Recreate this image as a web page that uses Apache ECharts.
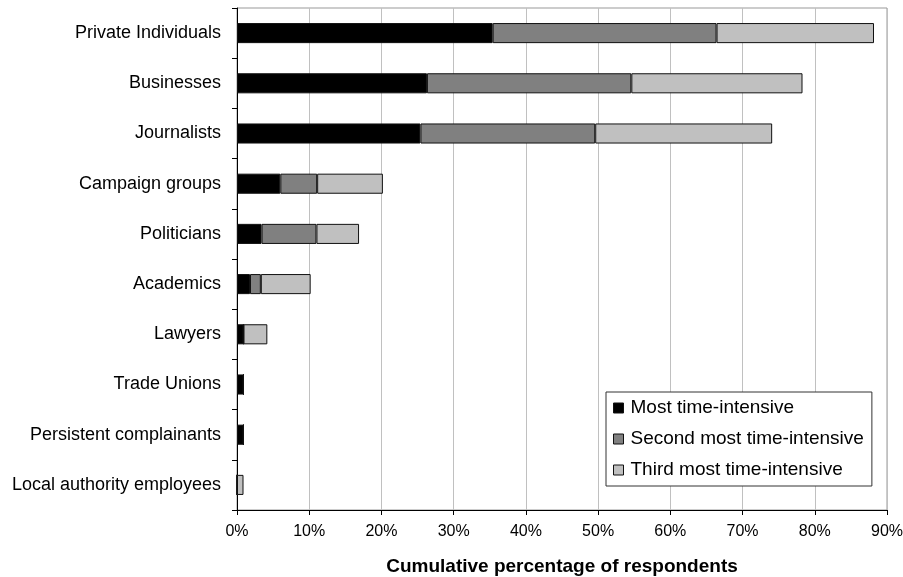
<!DOCTYPE html>
<html>
<head>
<meta charset="utf-8">
<script src="https://cdn.jsdelivr.net/npm/echarts@6/dist/echarts.min.js"></script>
<style>
  html, body { margin: 0; padding: 0; background: #fff; }
  #chart { width: 903px; height: 577px; }
</style>
</head>
<body>
<div id="chart"></div>
<script>
const categories = [
  'Private Individuals', 'Businesses', 'Journalists', 'Campaign groups', 'Politicians',
  'Academics', 'Lawyers', 'Trade Unions', 'Persistent complainants', 'Local authority employees'
];
const mostIntensive = [35.4, 26.3, 25.4, 6.0, 3.4, 1.8, 0.9, 0.9, 0.9, 0];
const secondIntensive = [31.0, 28.3, 24.2, 5.1, 7.6, 1.5, 0, 0, 0, 0];
const thirdIntensive = [21.8, 23.7, 24.5, 9.1, 5.9, 6.9, 3.3, 0, 0, 0.9];
const xTicks = [0, 10, 20, 30, 40, 50, 60, 70, 80, 90];

const font = 'Liberation Sans, Arial, sans-serif';
const chart = echarts.init(document.getElementById('chart'));

const barSeries = (name, data, color) => ({
  name,
  type: 'bar',
  stack: 'total',
  data,
  barCategoryGap: '60%',
  itemStyle: { color, borderColor: '#111', borderWidth: 1 },
  emphasis: { disabled: true }
});

chart.setOption({
  animation: false,
  textStyle: { fontFamily: font },
  grid: {
    left: 237, right: 16, top: 8, bottom: 67,
    outerBoundsMode: 'none',
    containLabel: false,
    show: true, borderColor: '#999', borderWidth: 1
  },
  legend: {
    orient: 'vertical',
    left: 606, top: 392,
    itemWidth: 10, itemHeight: 10,
    itemGap: 11,
    padding: [6, 8, 6, 7],
    borderColor: '#333', borderWidth: 1,
    backgroundColor: '#fff',
    icon: 'rect',
    itemStyle: { borderColor: '#111', borderWidth: 1 },
    textStyle: { fontSize: 19, lineHeight: 20, color: '#000', fontFamily: font, padding: [0, 0, 0, 2] },
    data: ['Most time-intensive', 'Second most time-intensive', 'Third most time-intensive']
  },
  xAxis: {
    type: 'value',
    min: xTicks[0],
    max: xTicks[xTicks.length - 1],
    interval: 10,
    name: 'Cumulative percentage of respondents',
    nameLocation: 'middle',
    nameGap: 47,
    nameTextStyle: { fontSize: 19, fontWeight: 'bold', color: '#000', fontFamily: font },
    axisLine: { show: true, lineStyle: { color: '#000', width: 1 } },
    axisTick: { show: true, length: 5, inside: false, lineStyle: { color: '#000' } },
    axisLabel: { fontSize: 16, color: '#000', margin: 14, formatter: v => v + '%' },
    splitLine: { show: true, lineStyle: { color: '#c0c0c0', width: 1 } }
  },
  yAxis: {
    type: 'category',
    data: categories,
    inverse: true,
    axisLine: { show: true, lineStyle: { color: '#000', width: 1 } },
    axisTick: { show: true, length: 5, lineStyle: { color: '#000' } },
    axisLabel: { fontSize: 18, color: '#000', margin: 16 },
    splitLine: { show: false }
  },
  series: [
    barSeries('Most time-intensive', mostIntensive, '#000000'),
    barSeries('Second most time-intensive', secondIntensive, '#808080'),
    barSeries('Third most time-intensive', thirdIntensive, '#c0c0c0')
  ]
});
</script>
</body>
</html>
